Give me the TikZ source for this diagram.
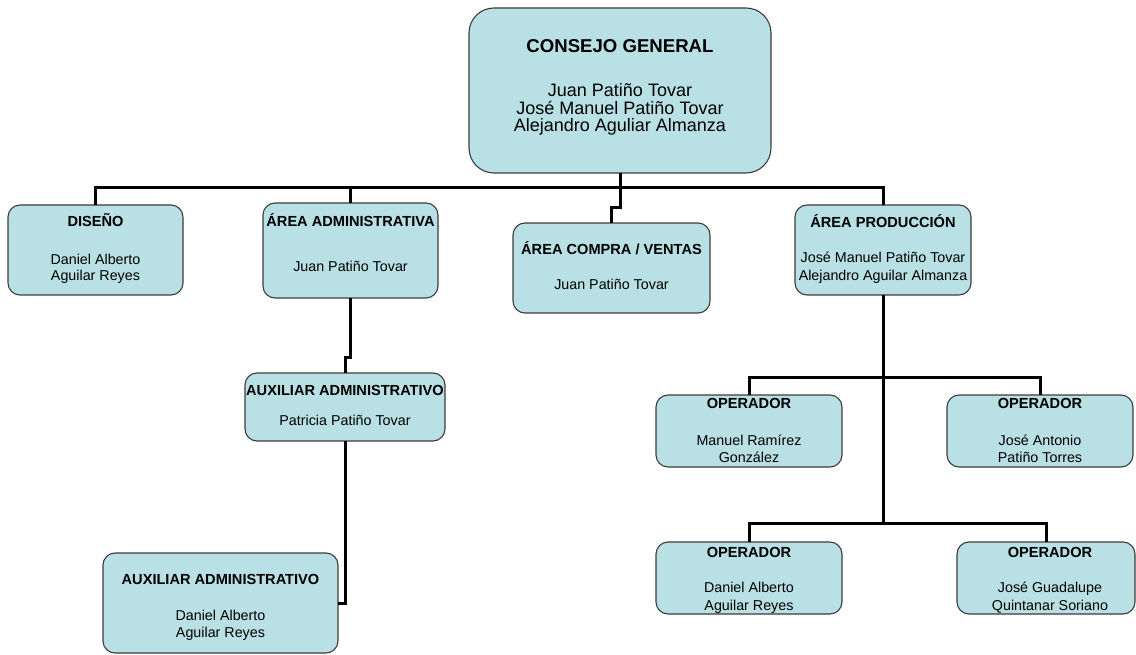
\documentclass[tikz,border=0pt]{standalone}
\usepackage{fontspec}
\setmainfont{Liberation Sans}
\definecolor{boxfill}{RGB}{185,224,228}
\definecolor{boxline}{RGB}{60,60,60}
\tikzset{
  orgbox/.style={draw=boxline, fill=boxfill, line width=1.1pt, rounded corners=12pt, inner sep=0pt, outer sep=0pt},
  conn/.style={line width=3pt, draw=black},
  ttl/.style={anchor=base, inner sep=0pt, font=\fontsize{14.6}{14.6}\selectfont\bfseries},
  nm/.style={anchor=base, inner sep=0pt, font=\fontsize{14.3}{14.3}\selectfont},
  bigttl/.style={anchor=base, inner sep=0pt, font=\fontsize{18.6}{18.6}\selectfont\bfseries},
  bignm/.style={anchor=base, inner sep=0pt, font=\fontsize{18}{18}\selectfont},
}
\begin{document}
\begin{tikzpicture}[x=1pt,y=-1pt]
\useasboundingbox (0,0) rectangle (1136,655);
\fill[white] (0,0) rectangle (1136,655);

% boxes
\node[orgbox, rounded corners=25pt, minimum width=302pt, minimum height=165pt] (cg) at (620,90.5) {};
\node[orgbox, minimum width=175pt, minimum height=90pt] (diseno) at (95.5,250) {};
\node[orgbox, minimum width=175pt, minimum height=95pt] (admin) at (350.5,250.5) {};
\node[orgbox, minimum width=197pt, minimum height=90pt] (compra) at (611.5,268) {};
\node[orgbox, minimum width=176pt, minimum height=90pt] (prod) at (883,250) {};
\node[orgbox, minimum width=200pt, minimum height=68pt] (aux1) at (345,407) {};
\node[orgbox, minimum width=235pt, minimum height=100pt] (aux2) at (220.5,603) {};
\node[orgbox, minimum width=186pt, minimum height=72pt] (op1) at (749,431) {};
\node[orgbox, minimum width=186pt, minimum height=72pt] (op2) at (1040,431) {};
\node[orgbox, minimum width=186pt, minimum height=72pt] (op3) at (749,578) {};
\node[orgbox, minimum width=178pt, minimum height=72pt] (op4) at (1046,578) {};

% connectors
\coordinate (bus) at (620,188);
\coordinate (jog1) at (620,208);
\coordinate (pbus1) at (883,377);
\coordinate (pbus2) at (883,523);
\draw[conn] (cg.south) -- (jog1) -| (compra.north);
\draw[conn] (diseno.north) -- (diseno.north |- bus) -| (prod.north);
\draw[conn] (admin.north) -- (admin.north |- bus);
\draw[conn] (admin.south) -- ++(0,59) -| (aux1.north);
\draw[conn] (aux1.south) |- (aux2.east);
\draw[conn] (prod.south) -- (pbus2);
\draw[conn] (op1.north) |- (pbus1) -| (op2.north);
\draw[conn] (op3.north) |- (pbus2) -| (op4.north);

% texts
\node[bigttl] (cg-t) at (620,53) {CONSEJO GENERAL};
\node[bignm] (cg-1) at (620,97) {Juan Patiño Tovar};
\node[bignm] (cg-2) at (620,114.5) {José Manuel Patiño Tovar};
\node[bignm] (cg-3) at (620,132) {Alejandro Aguliar Almanza};

\node[ttl] (diseno-t) at (95.5,227) {DISEÑO};
\node[nm] (diseno-1) at (95.5,265) {Daniel Alberto};
\node[nm] (diseno-2) at (95.5,280) {Aguilar Reyes};

\node[ttl] (admin-t) at (350.5,227) {ÁREA ADMINISTRATIVA};
\node[nm] (admin-1) at (350.5,272) {Juan Patiño Tovar};

\node[ttl] (compra-t) at (611.5,255) {ÁREA COMPRA / VENTAS};
\node[nm] (compra-1) at (611.5,290) {Juan Patiño Tovar};

\node[ttl] (prod-t) at (883,228) {ÁREA PRODUCCIÓN};
\node[nm] (prod-1) at (883,263) {José Manuel Patiño Tovar};
\node[nm] (prod-2) at (883,280) {Alejandro Aguilar Almanza};

\node[ttl] (aux1-t) at (345,395) {AUXILIAR ADMINISTRATIVO};
\node[nm] (aux1-1) at (345,425) {Patricia Patiño Tovar};

\node[ttl] (aux2-t) at (220.5,584) {AUXILIAR ADMINISTRATIVO};
\node[nm] (aux2-1) at (220.5,620) {Daniel Alberto};
\node[nm] (aux2-2) at (220.5,637) {Aguilar Reyes};

\node[ttl] (op1-t) at (749,408) {OPERADOR};
\node[nm] (op1-1) at (749,445) {Manuel Ramírez};
\node[nm] (op1-2) at (749,462) {González};

\node[ttl] (op2-t) at (1040,408) {OPERADOR};
\node[nm] (op2-1) at (1040,445) {José Antonio};
\node[nm] (op2-2) at (1040,462) {Patiño Torres};

\node[ttl] (op3-t) at (749,557) {OPERADOR};
\node[nm] (op3-1) at (749,592) {Daniel Alberto};
\node[nm] (op3-2) at (749,610) {Aguilar Reyes};

\node[ttl] (op4-t) at (1050,557) {OPERADOR};
\node[nm] (op4-1) at (1050,592) {José Guadalupe};
\node[nm] (op4-2) at (1050,610) {Quintanar Soriano};
\end{tikzpicture}
\end{document}
